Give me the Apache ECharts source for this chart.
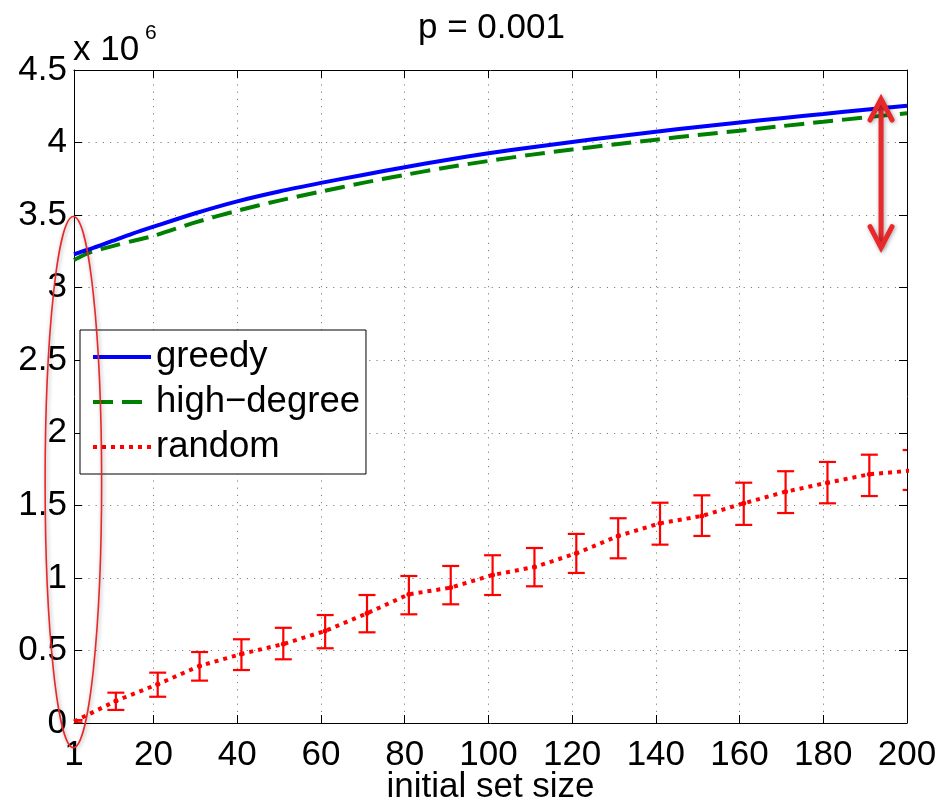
<!DOCTYPE html>
<html><head><meta charset="utf-8">
<script src="https://cdn.jsdelivr.net/npm/echarts@6/dist/echarts.min.js"></script>
<style>html,body{margin:0;padding:0;background:#fff}#c{width:943px;height:803px}</style>
</head><body><div id="c"></div>
<script>
// ---- data ----
const titleText = 'p = 0.001';
const xAxisName = 'initial set size';
const yScaleLabel = 'x 10';
const yScaleExp = '6';
const xTickValues = [1, 20, 40, 60, 80, 100, 120, 140, 160, 180, 200];
const seriesNames = ['greedy', 'high\u2212degree', 'random'];

const curveX     = [1, 3, 5, 10, 15, 20, 30, 40, 50, 60, 70, 80, 90, 100, 110, 120, 130, 140, 150, 160, 170, 180, 190, 200];
const greedy     = [3.23, 3.25, 3.268, 3.32, 3.372, 3.42, 3.513, 3.595, 3.663, 3.722, 3.777, 3.83, 3.88, 3.926, 3.966, 4.004, 4.04, 4.075, 4.107, 4.138, 4.168, 4.197, 4.226, 4.254];
const highDegree = [3.19, 3.22, 3.245, 3.285, 3.322, 3.357, 3.45, 3.53, 3.60, 3.662, 3.722, 3.777, 3.828, 3.873, 3.915, 3.952, 3.987, 4.02, 4.052, 4.082, 4.113, 4.143, 4.173, 4.202];

const randX    = [1, 11, 21, 31, 41, 51, 61, 71, 81, 91, 101, 111, 121, 131, 141, 151, 161, 171, 181, 191, 201];
const randMean = [0.01, 0.152, 0.267, 0.393, 0.476, 0.544, 0.634, 0.756, 0.887, 0.933, 1.020, 1.075, 1.169, 1.289, 1.376, 1.427, 1.514, 1.594, 1.656, 1.714, 1.739];
const randLow  = [0.004, 0.09, 0.181, 0.292, 0.365, 0.439, 0.515, 0.625, 0.749, 0.818, 0.882, 0.942, 1.034, 1.135, 1.229, 1.289, 1.365, 1.447, 1.514, 1.564, 1.606];
const randHigh = [0.02, 0.209, 0.347, 0.489, 0.577, 0.656, 0.744, 0.882, 1.013, 1.082, 1.156, 1.206, 1.303, 1.411, 1.518, 1.569, 1.656, 1.735, 1.799, 1.849, 1.881];

// annotation positions in data coordinates
const ellipseBox = {x1: -5.9, x2: 7.6, yTop: 3.49, yBottom: -0.17};
const arrowX = 193.8, arrowTop = 4.30, arrowBottom = 3.276;

// ---- chart ----
const FONT = "'Liberation Sans', Arial, Helvetica, sans-serif";
const chart = echarts.init(document.getElementById('c'), null, {renderer: 'canvas'});
const axisLineStyle = {color: '#000', width: 1};
const gridLine = {show: true, lineStyle: {color: '#808080', width: 1, type: [1.2, 6]}};
const colors = ['#0000ff', '#008000', '#ff0000'];
const dashes = ['solid', [20, 9], [4, 5]];
const widths = [4, 4, 4];

chart.setOption({
  animation: false,
  backgroundColor: '#fff',
  title: {text: titleText, left: 413, top: 6,
    textStyle: {fontFamily: FONT, fontSize: 35, fontWeight: 'normal', color: '#000'}},
  grid: {left: 74, right: 36, top: 70, bottom: 80, containLabel: false, outerBoundsMode: 'none'},
  legend: {
    data: seriesNames.map((n, i) => ({name: n,
      itemStyle: {opacity: 0},
      lineStyle: {color: colors[i], width: widths[i], type: dashes[i], opacity: 1}})),
    orient: 'vertical', left: 80, top: 330,
    padding: [7, 6, 7, 11], itemGap: 5, itemWidth: 58, itemHeight: 14,
    backgroundColor: '#fff', borderColor: '#000', borderWidth: 1, borderRadius: 0,
    textStyle: {fontFamily: FONT, fontSize: 36.5, color: '#000', lineHeight: 40},
    selectedMode: false
  },
  xAxis: [{
    type: 'value', min: 1, max: 200, position: 'bottom',
    name: xAxisName, nameLocation: 'middle', nameGap: 47, nameMoveOverlap: false,
    nameTextStyle: {fontFamily: FONT, fontSize: 35, color: '#000'},
    axisLine: {show: true, onZero: false, lineStyle: axisLineStyle},
    axisTick: {show: true, inside: true, length: 8, lineStyle: axisLineStyle, customValues: xTickValues},
    axisLabel: {fontFamily: FONT, fontSize: 35, color: '#000', margin: 15, customValues: xTickValues},
    splitLine: gridLine
  }, {
    type: 'value', min: 1, max: 200, position: 'top',
    axisLine: {show: true, onZero: false, lineStyle: axisLineStyle},
    axisTick: {show: true, inside: true, length: 8, lineStyle: axisLineStyle, customValues: xTickValues},
    axisLabel: {show: false}, splitLine: {show: false}
  }],
  yAxis: [{
    type: 'value', min: 0, max: 4.5, interval: 0.5, position: 'left',
    axisLine: {show: true, onZero: false, lineStyle: axisLineStyle},
    axisTick: {show: true, inside: true, length: 8, lineStyle: axisLineStyle},
    axisLabel: {fontFamily: FONT, fontSize: 35, color: '#000', margin: 7, padding: [10, 0, 0, 0]},
    splitLine: gridLine
  }, {
    type: 'value', min: 0, max: 4.5, interval: 0.5, position: 'right',
    axisLine: {show: true, onZero: false, lineStyle: axisLineStyle},
    axisTick: {show: true, inside: true, length: 8, lineStyle: axisLineStyle},
    axisLabel: {show: false}, splitLine: {show: false}
  }],
  series: [{
    name: seriesNames[0], type: 'line', symbol: 'none', z: 4, smooth: 0.3,
    data: curveX.map((x, i) => [x, greedy[i]]),
    lineStyle: {color: colors[0], width: widths[0]}, itemStyle: {color: colors[0]}
  }, {
    name: seriesNames[1], type: 'line', symbol: 'none', z: 3, smooth: 0.3,
    data: curveX.map((x, i) => [x, highDegree[i]]),
    lineStyle: {color: colors[1], width: widths[1], type: dashes[1]}, itemStyle: {color: colors[1]}
  }, {
    name: seriesNames[2], type: 'line', symbol: 'none', z: 3,
    data: randX.map((x, i) => [x, randMean[i]]),
    lineStyle: {color: colors[2], width: widths[2], type: dashes[2]}, itemStyle: {color: colors[2]}
  }, {
    name: 'random-errorbars', type: 'custom', clip: true, z: 3,
    data: randX.map((x, i) => [x, randLow[i], randHigh[i], randMean[i]]),
    renderItem: function (params, api) {
      const x = api.value(0);
      const lo = api.coord([x, api.value(1)]);
      const hi = api.coord([x, api.value(2)]);
      const mid = api.coord([x, api.value(3)]);
      const w = 8.5;
      const st = {stroke: '#ff0000', lineWidth: 2.2, fill: null};
      return {type: 'group', children: [
        {type: 'line', shape: {x1: lo[0], y1: lo[1], x2: hi[0], y2: hi[1]}, style: st},
        {type: 'line', shape: {x1: lo[0] - w, y1: lo[1], x2: lo[0] + w, y2: lo[1]}, style: st},
        {type: 'line', shape: {x1: hi[0] - w, y1: hi[1], x2: hi[0] + w, y2: hi[1]}, style: st},
        {type: 'circle', shape: {cx: mid[0], cy: mid[1], r: 2.5}, style: {fill: '#ff0000'}}
      ]};
    }
  }]
});

// annotations placed through the axes' scales
const p = (x, y) => chart.convertToPixel({gridIndex: 0}, [x, y]);
const e1 = p(ellipseBox.x1, ellipseBox.yTop), e2 = p(ellipseBox.x2, ellipseBox.yBottom);
const aT = p(arrowX, arrowTop), aB = p(arrowX, arrowBottom);
const red = '#e8282a';
const shadow = {shadowBlur: 4, shadowColor: 'rgba(0,0,0,0.35)', shadowOffsetX: 1, shadowOffsetY: 1};
chart.setOption({
  graphic: [
    {type: 'text', left: 73, top: 33, style: {text: yScaleLabel, font: '35px ' + FONT, fill: '#000'}},
    {type: 'text', left: 145, top: 23, style: {text: yScaleExp, font: '21px ' + FONT, fill: '#000'}},
    {type: 'ellipse', z: 100,
      shape: {cx: (e1[0] + e2[0]) / 2, cy: (e1[1] + e2[1]) / 2, rx: (e2[0] - e1[0]) / 2, ry: (e2[1] - e1[1]) / 2},
      style: Object.assign({fill: null, stroke: red, lineWidth: 1.6}, shadow)},
    {type: 'polyline', z: 100, shape: {points: [[aT[0], aT[1] + 3], [aB[0], aB[1] - 3]]},
      style: Object.assign({stroke: red, lineWidth: 5, lineCap: 'round', fill: null}, shadow)},
    {type: 'polyline', z: 100, shape: {points: [[aT[0] - 11, aT[1] + 21], [aT[0], aT[1]], [aT[0] + 11, aT[1] + 21]]},
      style: Object.assign({stroke: red, lineWidth: 5, lineCap: 'round', lineJoin: 'miter', fill: null}, shadow)},
    {type: 'polyline', z: 100, shape: {points: [[aB[0] - 11, aB[1] - 21], [aB[0], aB[1]], [aB[0] + 11, aB[1] - 21]]},
      style: Object.assign({stroke: red, lineWidth: 5, lineCap: 'round', lineJoin: 'miter', fill: null}, shadow)}
  ]
});
</script></body></html>
